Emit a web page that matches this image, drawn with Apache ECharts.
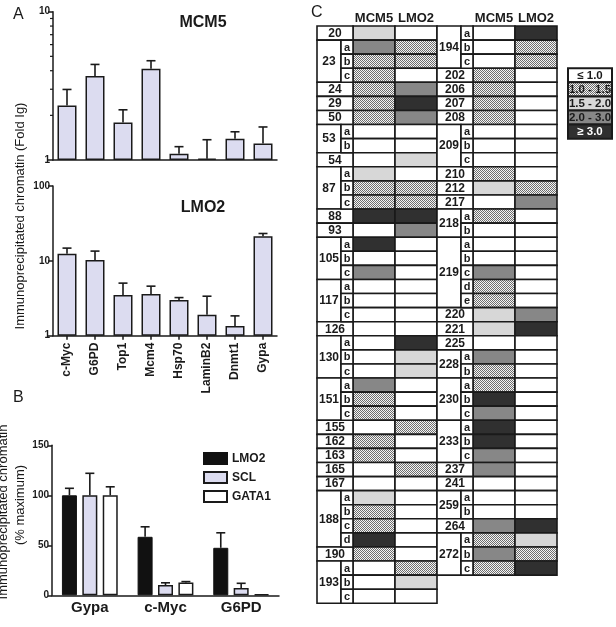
<!DOCTYPE html>
<html><head><meta charset="utf-8">
<script src="https://cdn.jsdelivr.net/npm/echarts@6/dist/echarts.min.js"></script>
<style>html,body{margin:0;padding:0;background:#fff}#c{width:616px;height:627px}</style>
</head><body><div id="c"></div>
<script>
// ---------- Panel A data ----------
const genes = ['c-Myc','G6PD','Top1','Mcm4','Hsp70','LaminB2','Dnmt1','Gypa'];
const mcm5Fold = [2.33, 3.68, 1.79, 4.12, 1.10, 1.02, 1.39, 1.29];
const mcm5SD   = [0.66, 0.73, 0.39, 0.55, 0.13, 0.35, 0.16, 0.38];
const lmo2Fold = [12.4, 10.3, 3.51, 3.62, 3.00, 1.90, 1.35, 21.3];
const lmo2SD   = [2.4, 3.2, 1.53, 0.97, 0.23, 1.47, 0.49, 1.9];
const mcm5MinorTicks = [2,3,4,5,6,7,8,9];

// ---------- Panel B data ----------
const genesB = ['Gypa','c-Myc','G6PD'];
const bSeriesNames = ['LMO2','SCL','GATA1'];
const lmo2Pct  = [100, 58.5, 47.5];
const lmo2PctSD = [7, 10, 15];
const sclPct   = [100, 10.3, 7.3];
const sclPctSD  = [22, 2.2, 4.7];
const gata1Pct = [100, 12.7, 1.0];
const gata1PctSD = [8.5, 1.0, 0];

// ---------- Panel C data (level: 0 <=1.0, 1 1.0-1.5, 2 1.5-2.0, 3 2.0-3.0, 4 >=3.0) ----------
const levelLabels = ['\u2264 1.0','1.0 - 1.5','1.5 - 2.0','2.0 - 3.0','\u2265 3.0'];
const tableHeaders = ['MCM5','LMO2'];
const leftRows = ['20','23a','23b','23c','24','29','50','53a','53b','54','87a','87b','87c','88','93',
  '105a','105b','105c','117a','117b','117c','126','130a','130b','130c','151a','151b','151c','155','162',
  '163','165','167','188a','188b','188c','188d','190','193a','193b','193c'];
const leftMCM5 = [2,3,1,1,1,1,1,0,0,0,2,1,1,4,0, 4,0,3,0,0,0,0,0,0,0,3,1,1,0,1, 1,0,0,2,1,1,4,1,0,0,0];
const leftLMO2 = [0,1,1,0,3,4,3,0,0,2,0,1,1,4,3, 0,0,0,0,0,0,0,4,2,2,0,0,0,1,0, 0,1,0,0,0,0,0,0,1,2,0];
const rightRows = ['194a','194b','194c','202','206','207','208','209a','209b','209c','210','212','217',
  '218a','218b','219a','219b','219c','219d','219e','220','221','225','228a','228b','230a','230b','230c',
  '233a','233b','233c','237','241','259a','259b','264','272a','272b','272c'];
const rightMCM5 = [0,0,0,1,1,1,1,0,0,0,1,2,0, 1,0,0,0,3,1,1,2,2,0,3,1,1,4,3, 4,4,3,3,0,0,0,3,1,3,1];
const rightLMO2 = [4,1,1,0,0,0,0,0,0,0,0,1,3, 0,0,0,0,0,0,0,3,4,0,0,0,0,0,0, 0,0,0,0,0,0,0,4,2,1,4];

// ---------- helpers ----------
const FONT = '"Liberation Sans", Arial, sans-serif';
const INK = '#1a1a1a';
const dots = (function(){
  const c = document.createElement('canvas'); c.width = 2; c.height = 2;
  const g = c.getContext('2d');
  g.fillStyle = '#f4f4f4'; g.fillRect(0,0,2,2);
  g.fillStyle = '#6e6e6e'; g.fillRect(0,0,1,1); g.fillRect(1,1,1,1);
  return c;
})();
const levelFill = ['#ffffff', {image: dots, repeat: 'repeat'}, '#d7d7d7', '#878787', '#303030'];
const levelText = [INK, INK, INK, INK, '#ffffff'];

function errRender(offset){
  return function(params, api){
    const x = api.value(0), v = api.value(1), sd = api.value(2);
    const p0 = api.coord([x, v]);
    const p1 = api.coord([x, v + sd]);
    const cx = p0[0] + offset, h = 4.5;
    if (sd <= 0) return null;
    return {type:'group', children:[
      {type:'line', shape:{x1:cx, y1:p0[1], x2:cx, y2:p1[1]}, style:{stroke:INK, lineWidth:1.6}},
      {type:'line', shape:{x1:cx-h, y1:p1[1], x2:cx+h, y2:p1[1]}, style:{stroke:INK, lineWidth:1.6}}
    ]};
  };
}

// Build table items from the row arrays
const labelItems = [], letterItems = [], cellItems = [];
function parseRow(s){ const m = s.match(/^(\d+)([a-z]?)$/); return {num:m[1], sub:m[2]}; }
function buildBlock(rows, mcm5, lmo2, off){
  let i = 0;
  while (i < rows.length){
    const r = parseRow(rows[i]);
    if (!r.sub){ labelItems.push({x0:off, x1:off+36, row:i, span:1, text:r.num}); i++; continue; }
    let j = i; while (j < rows.length && parseRow(rows[j]).num === r.num) j++;
    labelItems.push({x0:off, x1:off+24, row:i, span:j-i, text:r.num});
    for (let k = i; k < j; k++) letterItems.push({x0:off+24, x1:off+36, row:k, span:1, text:parseRow(rows[k]).sub});
    i = j;
  }
  rows.forEach((_, k) => {
    cellItems.push({x0:off+36, x1:off+78, row:k, span:1, level:mcm5[k]});
    cellItems.push({x0:off+78, x1:off+120, row:k, span:1, level:lmo2[k]});
  });
}
buildBlock(leftRows, leftMCM5, leftLMO2, 0);
buildBlock(rightRows, rightMCM5, rightLMO2, 120);
const legendItems = levelLabels.map((t, i) => ({x0:251, x1:295, row:3+i, span:1, level:i, text:t}));

function cellRect(api, it){
  const p0 = api.coord([it.x0, it.row]), p1 = api.coord([it.x1, it.row + it.span]);
  return {x:p0[0], y:p0[1], width:p1[0]-p0[0], height:p1[1]-p0[1]};
}
function textEl(x, y, text, size, color){
  return {type:'text', x:x, y:y, style:{text:text, font:'bold '+size+'px '+FONT, fill:color||INK,
    textAlign:'center', textVerticalAlign:'middle', align:'center', verticalAlign:'middle'}};
}
function labelRender(items, size){
  return function(params, api){
    const it = items[params.dataIndex];
    const r = cellRect(api, it);
    return {type:'group', children:[
      {type:'rect', shape:r, style:{fill:'#ffffff', stroke:INK, lineWidth:1.6}},
      textEl(r.x + r.width/2, r.y + r.height/2 + 0.5, it.text, size)
    ]};
  };
}
function cellRender(params, api){
  const it = cellItems[params.dataIndex];
  return {type:'rect', shape:cellRect(api, it), style:{fill:levelFill[it.level], stroke:INK, lineWidth:1.6}};
}
function legendRender(params, api){
  const it = legendItems[params.dataIndex];
  const r = cellRect(api, it);
  return {type:'group', children:[
    {type:'rect', shape:r, style:{fill:levelFill[it.level], stroke:INK, lineWidth:2}},
    textEl(r.x + r.width/2, r.y + r.height/2 + 0.5, it.text, 11.5, levelText[it.level])
  ]};
}

const axisLine = {show:true, lineStyle:{color:INK, width:1.5}};
const chart = echarts.init(document.getElementById('c'), null, {renderer:'canvas'});
const option = {
  animation: false,
  backgroundColor: '#ffffff',
  textStyle: {fontFamily: FONT},
  grid: [
    {left:53, top:11.7, width:224, height:148.3, containLabel:false, outerBoundsMode:'none'},
    {left:53, top:186, width:224, height:149.7, containLabel:false, outerBoundsMode:'none'},
    {left:52, top:445.3, width:227, height:150, containLabel:false, outerBoundsMode:'none'},
    {left:317, top:26, width:296, height:577.3, containLabel:false, outerBoundsMode:'none'}
  ],
  xAxis: [
    {type:'category', gridIndex:0, data:genes, axisLine:axisLine, axisTick:{show:false}, axisLabel:{show:false}},
    {type:'category', gridIndex:1, data:genes, axisLine:axisLine,
      axisTick:{show:true, alignWithLabel:true, length:4, lineStyle:{color:INK, width:1.5}},
      axisLabel:{rotate:90, fontSize:12, fontWeight:'bold', color:INK, margin:7, fontFamily:FONT}},
    {type:'category', gridIndex:2, data:genesB, axisLine:axisLine, axisTick:{show:false},
      axisLabel:{fontSize:15, fontWeight:'bold', color:INK, margin:5, fontFamily:FONT}},
    {type:'value', gridIndex:3, min:0, max:296, show:false}
  ],
  yAxis: [
    {type:'log', logBase:10, gridIndex:0, min:1, max:10, axisLine:axisLine, splitLine:{show:false},
      axisTick:{show:true, length:5, lineStyle:{color:INK, width:1.5}},
      axisLabel:{fontSize:10, fontWeight:'bold', color:INK, margin:3, fontFamily:FONT}},
    {type:'log', logBase:10, gridIndex:1, min:1, max:100, axisLine:axisLine, splitLine:{show:false},
      axisTick:{show:true, length:5, lineStyle:{color:INK, width:1.5}},
      axisLabel:{fontSize:10, fontWeight:'bold', color:INK, margin:3, fontFamily:FONT}},
    {type:'value', gridIndex:2, min:0, max:150, interval:50, axisLine:axisLine, splitLine:{show:false},
      axisTick:{show:true, length:4, lineStyle:{color:INK, width:1.5}},
      axisLabel:{fontSize:10, fontWeight:'bold', color:INK, margin:3, fontFamily:FONT}},
    {type:'value', gridIndex:3, min:0, max:41, inverse:true, show:false}
  ],
  legend: {
    data: bSeriesNames, orient:'vertical', left:203, top:452, itemWidth:23, itemHeight:11, itemGap:6,
    padding:0, icon:'rect', textStyle:{fontSize:12, fontWeight:'bold', color:INK, fontFamily:FONT}
  },
  graphic: [
    {type:'text', x:13, y:15, style:{text:'A', font:'16px '+FONT, fill:INK, textVerticalAlign:'middle', verticalAlign:'middle'}},
    {type:'text', x:13, y:398, style:{text:'B', font:'16px '+FONT, fill:INK, textVerticalAlign:'middle', verticalAlign:'middle'}},
    {type:'text', x:311, y:13, style:{text:'C', font:'16px '+FONT, fill:INK, textVerticalAlign:'middle', verticalAlign:'middle'}},
    {type:'text', x:203, y:23, style:{text:'MCM5', font:'bold 16px '+FONT, fill:INK, textAlign:'center', textVerticalAlign:'middle', align:'center', verticalAlign:'middle'}},
    {type:'text', x:203, y:208, style:{text:'LMO2', font:'bold 16px '+FONT, fill:INK, textAlign:'center', textVerticalAlign:'middle', align:'center', verticalAlign:'middle'}},
    {type:'text', x:20, y:216, rotation:Math.PI/2, style:{text:'Immunoprecipitated chromatin (Fold Ig)', font:'13px '+FONT, fill:INK, textAlign:'center', textVerticalAlign:'middle', align:'center', verticalAlign:'middle'}},
    {type:'text', x:3, y:512, rotation:Math.PI/2, style:{text:'Immunoprecipitated chromatin', font:'13px '+FONT, fill:INK, textAlign:'center', textVerticalAlign:'middle', align:'center', verticalAlign:'middle'}},
    {type:'text', x:20, y:505, rotation:Math.PI/2, style:{text:'(% maximum)', font:'13px '+FONT, fill:INK, textAlign:'center', textVerticalAlign:'middle', align:'center', verticalAlign:'middle'}},
    {type:'text', x:374, y:18, style:{text:tableHeaders[0], font:'bold 13px '+FONT, fill:INK, textAlign:'center', textVerticalAlign:'middle', align:'center', verticalAlign:'middle'}},
    {type:'text', x:416, y:18, style:{text:tableHeaders[1], font:'bold 13px '+FONT, fill:INK, textAlign:'center', textVerticalAlign:'middle', align:'center', verticalAlign:'middle'}},
    {type:'text', x:494, y:18, style:{text:tableHeaders[0], font:'bold 13px '+FONT, fill:INK, textAlign:'center', textVerticalAlign:'middle', align:'center', verticalAlign:'middle'}},
    {type:'text', x:536, y:18, style:{text:tableHeaders[1], font:'bold 13px '+FONT, fill:INK, textAlign:'center', textVerticalAlign:'middle', align:'center', verticalAlign:'middle'}}
  ],
  series: [
    {name:'A-MCM5', type:'bar', xAxisIndex:0, yAxisIndex:0, data:mcm5Fold, barWidth:19,
      itemStyle:{color:'#dcdcf0', borderColor:INK, borderWidth:1.5}},
    {type:'custom', xAxisIndex:0, yAxisIndex:0, renderItem:errRender(0), z:3,
      data:genes.map((g,i)=>[i, mcm5Fold[i], mcm5SD[i]])},
    {type:'custom', xAxisIndex:0, yAxisIndex:0, z:3, clip:false,
      renderItem:function(params, api){
        const p = api.coord([0, api.value(1)]);
        const x = params.coordSys.x;
        return {type:'line', shape:{x1:x-3, y1:p[1], x2:x, y2:p[1]}, style:{stroke:INK, lineWidth:1.2}};
      },
      data:mcm5MinorTicks.map(v=>[0, v])},
    {name:'A-LMO2', type:'bar', xAxisIndex:1, yAxisIndex:1, data:lmo2Fold, barWidth:19,
      itemStyle:{color:'#dcdcf0', borderColor:INK, borderWidth:1.5}},
    {type:'custom', xAxisIndex:1, yAxisIndex:1, renderItem:errRender(0), z:3,
      data:genes.map((g,i)=>[i, lmo2Fold[i], lmo2SD[i]])},
    {name:'LMO2', type:'bar', xAxisIndex:2, yAxisIndex:2, data:lmo2Pct, barWidth:15, barGap:'36%',
      itemStyle:{color:'#111111', borderColor:'#111111', borderWidth:1}},
    {name:'SCL', type:'bar', xAxisIndex:2, yAxisIndex:2, data:sclPct, barWidth:15, barGap:'36%',
      itemStyle:{color:'#dcdcf0', borderColor:INK, borderWidth:1.5}},
    {name:'GATA1', type:'bar', xAxisIndex:2, yAxisIndex:2, data:gata1Pct, barWidth:15, barGap:'36%',
      itemStyle:{color:'#ffffff', borderColor:INK, borderWidth:1.5}},
    {type:'custom', xAxisIndex:2, yAxisIndex:2, renderItem:errRender(-20.4), z:3,
      data:genesB.map((g,i)=>[i, lmo2Pct[i], lmo2PctSD[i]])},
    {type:'custom', xAxisIndex:2, yAxisIndex:2, renderItem:errRender(0), z:3,
      data:genesB.map((g,i)=>[i, sclPct[i], sclPctSD[i]])},
    {type:'custom', xAxisIndex:2, yAxisIndex:2, renderItem:errRender(20.4), z:3,
      data:genesB.map((g,i)=>[i, gata1Pct[i], gata1PctSD[i]])},
    {type:'custom', xAxisIndex:3, yAxisIndex:3, clip:false, renderItem:cellRender,
      data:cellItems.map(it=>[it.x0, it.row])},
    {type:'custom', xAxisIndex:3, yAxisIndex:3, clip:false, renderItem:labelRender(labelItems, 12),
      data:labelItems.map(it=>[it.x0, it.row])},
    {type:'custom', xAxisIndex:3, yAxisIndex:3, clip:false, renderItem:labelRender(letterItems, 11),
      data:letterItems.map(it=>[it.x0, it.row])},
    {type:'custom', xAxisIndex:3, yAxisIndex:3, clip:false, renderItem:legendRender,
      data:legendItems.map(it=>[it.x0, it.row])}
  ]
};
chart.setOption(option);
</script>
</body></html>
